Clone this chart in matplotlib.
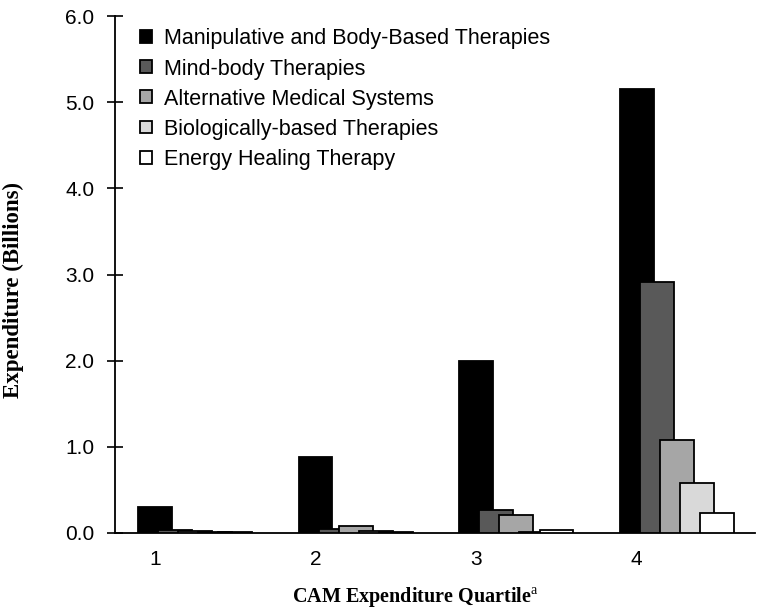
import matplotlib
matplotlib.use("Agg")
import matplotlib.pyplot as plt
from matplotlib.ticker import FormatStrFormatter

plt.rcParams["mathtext.fontset"] = "custom"
plt.rcParams["mathtext.bf"] = "Liberation Serif:bold"
plt.rcParams["mathtext.rm"] = "Liberation Serif"

quartiles = ["1", "2", "3", "4"]
series_names = [
    "Manipulative and Body-Based Therapies",
    "Mind-body Therapies",
    "Alternative Medical Systems",
    "Biologically-based Therapies",
    "Energy Healing Therapy",
]
manipulative = [0.30, 0.88, 2.00, 5.15]
mind_body = [0.03, 0.05, 0.27, 2.91]
alternative = [0.02, 0.08, 0.21, 1.08]
biological = [0.01, 0.02, 0.01, 0.58]
energy = [0.01, 0.01, 0.03, 0.23]
series = [manipulative, mind_body, alternative, biological, energy]
colors = ["#000000", "#595959", "#a6a6a6", "#d9d9d9", "#ffffff"]

sans = ["Liberation Sans", "DejaVu Sans"]
serif = ["Liberation Serif", "DejaVu Serif"]

fig = plt.figure(figsize=(7.62, 6.10), dpi=100)
ax = fig.add_axes([115/762, 1-533/610, 640/762, 517/610])

pos = list(range(1, len(quartiles) + 1))
width = 0.21
step = 0.125
for k, (vals, name, c) in enumerate(zip(series, series_names, colors)):
    xs = [p + k*step for p in pos]
    ax.bar(xs, vals, width=width, color=c, edgecolor="black", linewidth=1.3,
           label=name, zorder=2 + k)

ax.set_xlim(0.751, 4.737)
ax.set_ylim(0, 6.0)
ax.set_yticks([0, 1, 2, 3, 4, 5, 6])
ax.yaxis.set_major_formatter(FormatStrFormatter("%.1f"))
ax.set_xticks(pos)
ax.set_xticklabels(quartiles)
ax.tick_params(axis="y", direction="inout", length=12, width=1.2, labelsize=15, pad=9)
ax.tick_params(axis="x", length=0, labelsize=15, pad=12)
for lab in ax.get_xticklabels() + ax.get_yticklabels():
    lab.set_family(sans)

for s in ["top", "right"]:
    ax.spines[s].set_visible(False)
ax.spines["left"].set_linewidth(1.3)
ax.spines["bottom"].set_linewidth(1.3)

ax.set_ylabel("Expenditure (Billions)", family=serif, fontweight="bold", fontsize=16.5)
ax.yaxis.set_label_coords(-0.142, (533-290)/517)
ax.set_xlabel("CAM Expenditure Quartile$^{\\mathrm{a}}$", family=serif, fontweight="bold", fontsize=14.5)
ax.xaxis.set_label_coords((415-115)/640, -0.10)

leg = ax.legend(loc="upper left", bbox_to_anchor=(0.016, 1.005), frameon=False,
                prop={"family": sans, "size": 15.5}, handlelength=0.55, handleheight=0.55,
                handletextpad=0.55, labelspacing=0.42, borderaxespad=0.3)

fig.savefig("out.png", dpi=100)
